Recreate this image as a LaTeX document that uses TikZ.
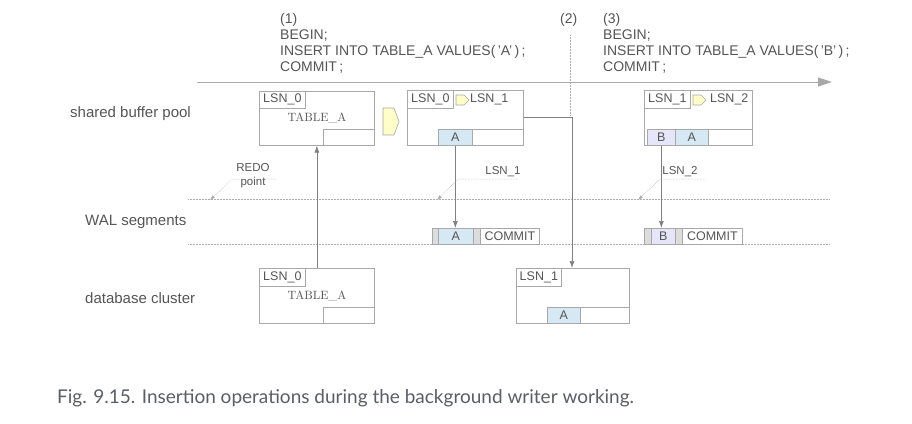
\documentclass[tikz,border=0pt]{standalone}
\usepackage{fontspec}
\newfontfamily\sans{Liberation Sans}
\newfontfamily\capfont{Lato}
\newfontfamily\lmr{lmroman10-regular.otf}
\usetikzlibrary{arrows.meta}
\definecolor{ln}{HTML}{A8A8A8}
\definecolor{cn}{HTML}{808080}
\definecolor{dt}{HTML}{ADADAD}
\definecolor{tx}{HTML}{555555}
\definecolor{cellA}{HTML}{D6E8F4}
\definecolor{cellB}{HTML}{E6E6FA}
\definecolor{gbar}{HTML}{DCDCDC}
\definecolor{yel}{HTML}{FFFDC8}
\definecolor{capc}{HTML}{5A5F66}
\begin{document}
\begin{tikzpicture}[x=1pt,y=-1pt,
  every node/.style={inner sep=0pt, text=tx},
  pg/.style={draw=ln, line width=0.7pt, rectangle, anchor=north west, inner sep=0pt},
  tabtxt/.style={font=\sans\fontsize{12.5}{13}\selectfont},
  celltxt/.style={font=\sans\fontsize{12.5}{13}\selectfont},
  lbl/.style={font=\sans\fontsize{15}{15}\selectfont},
  sql/.style={font=\sans\fontsize{14}{16}\selectfont, anchor=west},
  small/.style={font=\sans\fontsize{11.5}{12}\selectfont},
  tbl/.style={font=\lmr\fontsize{12}{12}\selectfont},
  conn/.style={draw=cn, line width=0.7pt, -{Latex[length=7pt,width=5pt]}},
  lead/.style={draw=dt, line width=0.5pt, densely dotted, -{Latex[length=5pt,width=3.5pt]}},
  seg/.style={draw=dt, line width=0.5pt, densely dotted},
  yarrow/.style={draw=ln, line width=0.6pt, fill=yel}
]
\useasboundingbox (0,0) rectangle (912,423);
\fill[white] (0,0) rectangle (912,423);

% time line
\coordinate (t0) at (197,82);
\coordinate (t1) at (832,82);
\draw[draw=ln, line width=0.8pt, -{Triangle[length=14pt,width=9pt]}, fill=ln] (t0) -- (t1);

% SQL blocks
\node[sql] (s1a) at (280,20) {(1)};
\node[sql] (s1b) at (280,36) {BEGIN;};
\node[sql] (s1c) at (280,52) {INSERT INTO TABLE\_A VALUES(\,’A’\,)\,;};
\node[sql] (s1d) at (280,68) {COMMIT\,;};
\node[sql] (s2) at (560,20) {(2)};
\node[sql] (s3a) at (603,20) {(3)};
\node[sql] (s3b) at (603,36) {BEGIN;};
\node[sql] (s3c) at (603,52) {INSERT INTO TABLE\_A VALUES(\,’B’\,)\,;};
\node[sql] (s3d) at (603,68) {COMMIT\,;};
\coordinate (d2a) at (570,35);
\coordinate (d2b) at (570,115);
\draw[seg] (d2a) -- (d2b);

% left labels
\node[lbl, anchor=west] (lsbp) at (70,114) {shared buffer pool};
\node[lbl, anchor=west] (lwal) at (85,222) {WAL segments};
\node[lbl, anchor=west] (ldb) at (85,298) {database cluster};

% WAL segment boundaries
\coordinate (w1a) at (188,199); \coordinate (w1b) at (830,199);
\coordinate (w2a) at (188,244); \coordinate (w2b) at (830,244);
\draw[seg] (w1a) -- (w1b);
\draw[seg] (w2a) -- (w2b);

% ---- buffer page (1) state
\node[pg, minimum width=115pt, minimum height=54pt] (b1) at (259,91) {};
\node[pg, minimum width=46pt, minimum height=17pt, tabtxt] (b1t) at (259,91) {LSN\_0};
\node[tbl] (b1n) at (317,118) {TABLE\_A};
\node[pg, minimum width=51pt, minimum height=16pt] (b1s) at (323,129) {};

% big yellow arrow
\draw[yarrow] (383,108) -- (394,108) -- (399,121.5) -- (394,135) -- (383,135) -- cycle;

% ---- buffer page after (1)
\node[pg, minimum width=116pt, minimum height=55pt] (b2) at (407,90) {};
\node[pg, minimum width=46pt, minimum height=18pt, tabtxt] (b2t) at (407,90) {LSN\_0};
\draw[yarrow] (456,95) -- (464,95) -- (469,100) -- (464,105) -- (456,105) -- cycle;
\node[tabtxt, anchor=west] (b2l) at (470,99) {LSN\_1};
\node[pg, minimum width=51pt, minimum height=16pt] (b2s) at (472,129) {};
\node[pg, fill=cellA, minimum width=34pt, minimum height=16pt, celltxt] (b2A) at (438,129) {A};

% ---- buffer page after (3)
\node[pg, minimum width=108pt, minimum height=55pt] (b3) at (644,90) {};
\node[pg, minimum width=46pt, minimum height=18pt, tabtxt] (b3t) at (644,90) {LSN\_1};
\draw[yarrow] (693,95) -- (701,95) -- (706,100) -- (701,105) -- (693,105) -- cycle;
\node[tabtxt, anchor=west] (b3l) at (710,99) {LSN\_2};
\node[pg, minimum width=44pt, minimum height=16pt] (b3s) at (708,129) {};
\node[pg, fill=cellA, minimum width=33pt, minimum height=16pt, celltxt] (b3A) at (675,129) {A};
\node[pg, fill=cellB, minimum width=28pt, minimum height=16pt, celltxt] (b3B) at (647,129) {B};

% ---- WAL records
\node[pg, fill=gbar, minimum width=6pt, minimum height=16pt] (wa0) at (432,228) {};
\node[pg, fill=cellA, minimum width=35pt, minimum height=16pt, celltxt] (waA) at (438,228) {A};
\node[pg, fill=gbar, minimum width=7pt, minimum height=16pt] (wa1) at (473,228) {};
\node[pg, minimum width=59pt, minimum height=16pt, celltxt] (waC) at (480,228) {COMMIT};

\node[pg, fill=gbar, minimum width=7pt, minimum height=16pt] (wb0) at (644,228) {};
\node[pg, fill=cellB, minimum width=24pt, minimum height=16pt, celltxt] (wbB) at (651,228) {B};
\node[pg, fill=gbar, minimum width=7pt, minimum height=16pt] (wb1) at (675,228) {};
\node[pg, minimum width=60pt, minimum height=16pt, celltxt] (wbC) at (682,228) {COMMIT};

% ---- database cluster pages
\node[pg, minimum width=115pt, minimum height=55pt] (c1) at (259,268) {};
\node[pg, minimum width=46pt, minimum height=18pt, tabtxt] (c1t) at (259,268) {LSN\_0};
\node[tbl] (c1n) at (317,296) {TABLE\_A};
\node[pg, minimum width=51pt, minimum height=16pt] (c1s) at (323,307) {};

\node[pg, minimum width=113pt, minimum height=55pt] (c2) at (516,268) {};
\node[pg, minimum width=45pt, minimum height=18pt, tabtxt] (c2t) at (516,268) {LSN\_1};
\node[pg, minimum width=49pt, minimum height=16pt] (c2s) at (580,307) {};
\node[pg, fill=cellA, minimum width=33pt, minimum height=16pt, celltxt] (c2A) at (547,307) {A};

% ---- connectors
\draw[conn] (c1.north) -- (c1.north |- b1.south);
\draw[conn] (b2A.south) -- (b2A.south |- waA.north);
\draw[conn] (b3B.south) -- (b3B.south |- wbB.north);
\coordinate (k2) at (572,117);
\draw[conn] (b2.east |- k2) -- (k2) -- (k2 |- c2.north);

% ---- leaders
\node[small] (redo1) at (253,168) {REDO};
\node[small] (redo2) at (253,183) {point};
\coordinate (r0) at (276,179); \coordinate (r1) at (232,179); \coordinate (r2) at (210,200);
\draw[lead] (r0) -- (r1) -- (r2);

\node[small] (lsn1) at (503,172) {LSN\_1};
\coordinate (p0) at (518,179); \coordinate (p1) at (458,179); \coordinate (p2) at (437,200);
\draw[lead] (p0) -- (p1) -- (p2);

\node[small] (lsn2) at (680,172) {LSN\_2};
\coordinate (q0) at (705,179); \coordinate (q1) at (660,179); \coordinate (q2) at (638,200);
\draw[lead] (q0) -- (q1) -- (q2);

% caption
\node[anchor=west, font=\capfont\fontsize{19}{19}\selectfont, text=capc] (cap) at (57,398) {Fig. 9.15. Insertion operations during the background writer working.};
\end{tikzpicture}
\end{document}
